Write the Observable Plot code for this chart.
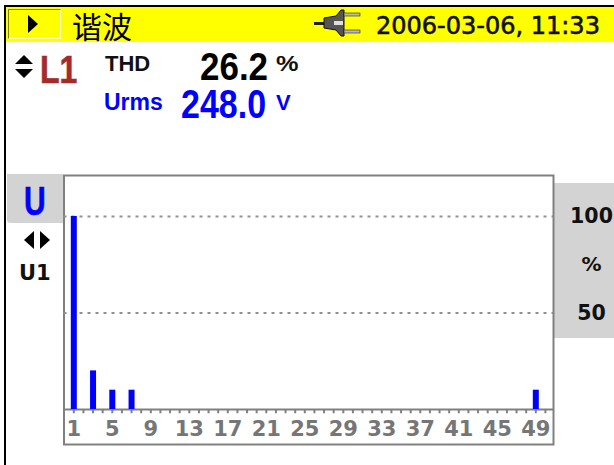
<!DOCTYPE html>
<html><head><meta charset="utf-8">
<script src="https://cdn.jsdelivr.net/npm/d3@7"></script>
<script src="https://cdn.jsdelivr.net/npm/@observablehq/plot@0.6"></script>
<style>
html,body{margin:0;padding:0;background:#fff;overflow:hidden}
#page{position:relative;width:614px;height:465px;overflow:hidden;font-family:"DejaVu Sans",sans-serif}
.a{position:absolute;white-space:nowrap;line-height:1;transform-origin:0 0}
#chart{position:absolute;left:0;top:0}
</style></head><body>
<div id="page">
 <div class="a" style="left:4px;top:5px;width:610px;height:2px;background:#000"></div>
 <div class="a" style="left:4px;top:5px;width:2px;height:460px;background:#000"></div>
 <div class="a" style="left:6px;top:7px;width:608px;height:35px;background:#ffff00"></div>
 <div class="a" style="left:8px;top:9px;width:51px;height:28px;border:1px solid;border-color:#808000 #ffffc0 #ffffc0 #808000"></div>
 <svg class="a" style="left:28px;top:15px" width="12" height="20"><polygon points="0,0 10,9 0,18" fill="#000"/></svg>
 <div class="a" style="left:72px;top:3px;font:30px 'Noto Sans CJK SC'">谐波</div>
 <svg class="a" style="left:314px;top:8px" width="50" height="30">
  <rect x="0" y="14" width="11" height="3" fill="#222"/>
  <polygon points="10,10 22,8 27,2 30,2 30,28 27,28 22,22 10,20" fill="#555" stroke="#111"/>
  <rect x="20" y="13" width="9" height="4" fill="#ddd"/>
  <rect x="30" y="5" width="16" height="3" fill="#bbb" stroke="#222" stroke-width=".6"/>
  <rect x="30" y="22" width="16" height="3" fill="#bbb" stroke="#222" stroke-width=".6"/>
 </svg>
 <div id="dt" class="a" style="left:376px;top:12px;font:24px 'DejaVu Sans';color:#111;-webkit-text-stroke:.6px #111"></div>

 <svg class="a" style="left:15px;top:55px" width="20" height="26"><polygon points="9,0 18,9 0,9" fill="#000"/><polygon points="0,14 18,14 9,23" fill="#000"/></svg>
 <div class="a" style="left:40px;top:48px;font:bold 39px 'Liberation Sans';color:#a52a2a;transform:scaleX(.82);-webkit-text-stroke:.6px #a52a2a">L1</div>
 <div class="a" style="left:105px;top:51px;font:bold 22px 'Liberation Sans';color:#111">THD</div>
 <div class="a" style="left:200px;top:52px;font:bold 38px/.8 'Liberation Sans';color:#000;transform:scaleX(.92)">26.2</div>
 <div class="a" style="left:276px;top:51px;font:bold 22px 'Liberation Sans';color:#111;transform:scaleX(1.15)">%</div>
 <div class="a" style="left:104px;top:89px;font:bold 23px 'Liberation Sans';color:#0000ff">Urms</div>
 <div class="a" style="left:181px;top:88px;font:bold 40px/.8 'Liberation Sans';color:#0000ff;transform:scaleX(.85)">248.0</div>
 <div class="a" style="left:276px;top:90px;font:bold 22px 'Liberation Sans';color:#0000ff">V</div>

 <div class="a" style="left:7px;top:174px;width:56px;height:49px;background:#d3d3d3;border-radius:0 0 0 3px"></div>
 <div class="a" style="left:554px;top:183px;width:60px;height:155px;background:#d3d3d3"></div>
 <div class="a" style="left:24px;top:179px;font:bold 40px 'Liberation Sans';color:#0000ff;transform:scaleX(.75);-webkit-text-stroke:.6px #0000ff">U</div>
 <svg class="a" style="left:24px;top:231px" width="28" height="20"><polygon points="0,9 10,0 10,18" fill="#000"/><polygon points="16,0 26,9 16,18" fill="#000"/></svg>
 <div class="a" style="left:19px;top:261px;font:bold 21px 'DejaVu Sans';color:#111">U1</div>
 <div id="chart"></div>
</div>
<script>
const harmonics = [1, 3, 5, 7, 49];
const percent = [100, 20, 10, 10, 10];
const xTickLabels = [1, 5, 9, 13, 17, 21, 25, 29, 33, 37, 41, 45, 49];
const yTickLabels = [50, 100];
const yUnit = "%";
const timestamp = "2006-03-06, 11:33";
const minorTicks = d3.range(1, 51);

document.getElementById("dt").textContent = timestamp;
const bars = harmonics.map((h, i) => ({h, v: percent[i]}));

const plot = Plot.plot({
  width: 614, height: 465,
  marginLeft: 63.5, marginRight: 61, marginTop: 175, marginBottom: 21,
  style: {background: "transparent", fontFamily: "DejaVu Sans"},
  x: {type: "linear", domain: [1, 49], range: [73.3, 535.3], axis: null},
  y: {type: "linear", domain: [0, 100], range: [409, 216], axis: null},
  marks: [
    Plot.frame({fill: "#fff", stroke: "#808080", strokeWidth: 2}),
    Plot.ruleY(yTickLabels, {stroke: "#909090", strokeWidth: 2, strokeDasharray: "3 5"}),
    Plot.ruleX(minorTicks, {x: d => d, y1: 0, y2: -2.2, stroke: "#808080", strokeWidth: 2}),
    Plot.ruleY([0], {stroke: "#808080", strokeWidth: 2}),
    Plot.ruleX(bars, {x: "h", y1: 0, y2: "v", stroke: "#0000ff", strokeWidth: 6}),
    Plot.text(xTickLabels, {x: d => d, y: 0, dy: 20, fill: "#767676", fontWeight: "bold", fontSize: 21}),
    Plot.text(yTickLabels, {y: d => d, frameAnchor: "right", textAnchor: "middle", dx: 38, fill: "#111", fontWeight: "bold", fontSize: 20.5}),
    Plot.text([yUnit], {y: 75, frameAnchor: "right", textAnchor: "middle", dx: 38, fill: "#111", fontWeight: "bold", fontSize: 20})
  ]
});
document.getElementById("chart").append(plot);
</script>
</body></html>
